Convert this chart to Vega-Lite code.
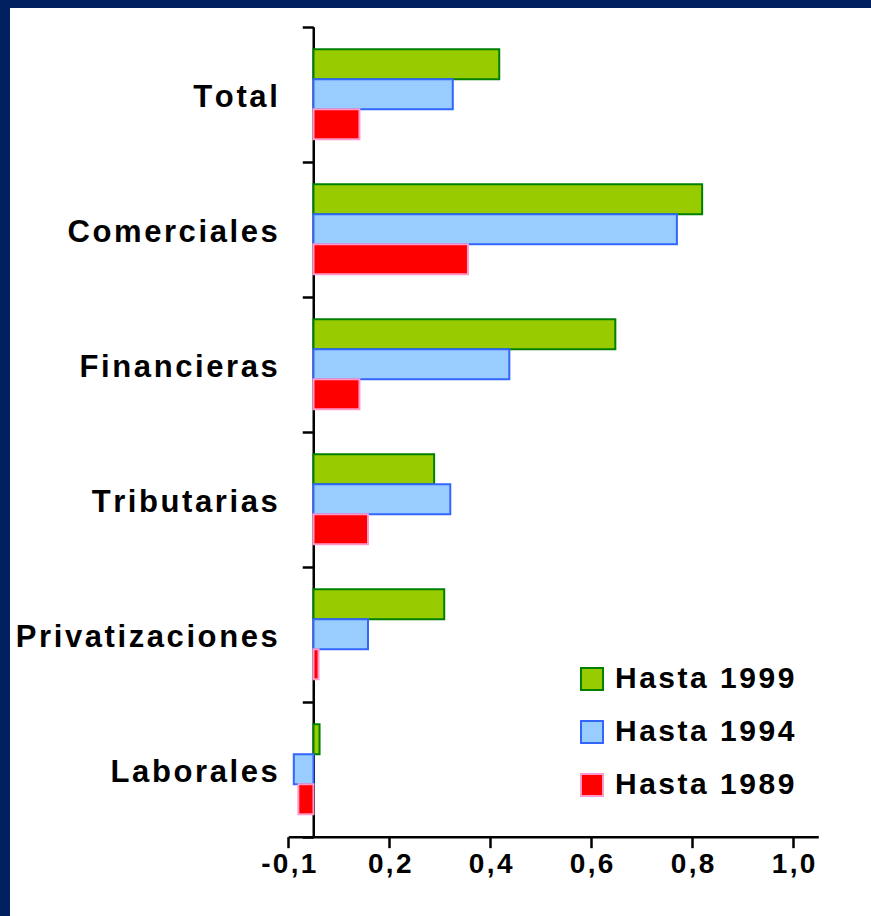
{
  "$schema": "https://vega.github.io/schema/vega-lite/v6.json",
  "autosize": {"type": "none"},
  "width": 861,
  "height": 908,
  "padding": {"left": 10, "top": 8, "right": 0, "bottom": 0},
  "background": "#002060",
  "config": {
    "view": {"fill": "#ffffff", "stroke": null},
    "font": "'Liberation Sans', Arial, sans-serif"
  },
  "data": {
    "values": [
      {"categoria": "Total", "serie": "Hasta 1999", "valor": 0.368},
      {"categoria": "Total", "serie": "Hasta 1994", "valor": 0.276},
      {"categoria": "Total", "serie": "Hasta 1989", "valor": 0.091},
      {"categoria": "Comerciales", "serie": "Hasta 1999", "valor": 0.770},
      {"categoria": "Comerciales", "serie": "Hasta 1994", "valor": 0.720},
      {"categoria": "Comerciales", "serie": "Hasta 1989", "valor": 0.306},
      {"categoria": "Financieras", "serie": "Hasta 1999", "valor": 0.598},
      {"categoria": "Financieras", "serie": "Hasta 1994", "valor": 0.388},
      {"categoria": "Financieras", "serie": "Hasta 1989", "valor": 0.091},
      {"categoria": "Tributarias", "serie": "Hasta 1999", "valor": 0.239},
      {"categoria": "Tributarias", "serie": "Hasta 1994", "valor": 0.271},
      {"categoria": "Tributarias", "serie": "Hasta 1989", "valor": 0.108},
      {"categoria": "Privatizaciones", "serie": "Hasta 1999", "valor": 0.259},
      {"categoria": "Privatizaciones", "serie": "Hasta 1994", "valor": 0.108},
      {"categoria": "Privatizaciones", "serie": "Hasta 1989", "valor": 0.010},
      {"categoria": "Laborales", "serie": "Hasta 1999", "valor": 0.012},
      {"categoria": "Laborales", "serie": "Hasta 1994", "valor": -0.039},
      {"categoria": "Laborales", "serie": "Hasta 1989", "valor": -0.030}
    ]
  },
  "mark": {"type": "bar", "strokeWidth": 2},
  "encoding": {
    "y": {
      "field": "categoria",
      "type": "nominal",
      "sort": ["Total", "Comerciales", "Financieras", "Tributarias", "Privatizaciones", "Laborales"],
      "scale": {"type": "band", "range": [18.67, 828.67], "paddingInner": 0, "paddingOuter": 0},
      "axis": {
        "title": null,
        "orient": "left",
        "offset": -303.25,
        "domainColor": "#000000",
        "domainWidth": 2.5,
        "tickBand": "extent",
        "tickColor": "#000000",
        "tickWidth": 2.5,
        "tickSize": 11,
        "labelPadding": 25,
        "labelOffset": 3,
        "labelFontWeight": "bold",
        "labelFontSize": 31,
        "labelColor": "#000000",
        "labelLimit": 400,
        "labelExpr": "join(split(datum.label, ''), '\u200a')"
      }
    },
    "yOffset": {
      "field": "serie",
      "type": "nominal",
      "sort": ["Hasta 1999", "Hasta 1994", "Hasta 1989"],
      "scale": {"paddingInner": 0, "paddingOuter": 0.75}
    },
    "x": {
      "field": "valor",
      "type": "quantitative",
      "scale": {"domain": [-0.05, 1.0], "range": [278.25, 808.25], "nice": false, "zero": false},
      "axis": {
        "title": null,
        "orient": "bottom",
        "offset": -79.33,
        "values": [-0.05, 0.15, 0.35, 0.55, 0.75, 0.95],
        "grid": false,
        "domainColor": "#000000",
        "domainWidth": 2.5,
        "tickColor": "#000000",
        "tickWidth": 2.5,
        "tickSize": 11,
        "labelPadding": 3,
        "labelFontWeight": "bold",
        "labelFontSize": 28,
        "labelColor": "#000000",
        "labelFlush": false,
        "labelExpr": "datum.value < 0 ? '-\u200a0\u200a,\u200a1' : join(split(replace(format(datum.value + 0.05, '.1f'), '.', ','), ''), '\u200a')"
      }
    },
    "fill": {
      "field": "serie",
      "type": "nominal",
      "sort": ["Hasta 1999", "Hasta 1994", "Hasta 1989"],
      "scale": {"domain": ["Hasta 1999", "Hasta 1994", "Hasta 1989"], "range": ["#99CC00", "#99CCFF", "#FF0000"]},
      "legend": {
        "title": null,
        "orient": "none",
        "legendX": 567,
        "legendY": 656,
        "padding": 0,
        "symbolType": "square",
        "symbolSize": 484,
        "symbolStrokeWidth": 2,
        "symbolOpacity": 1,
        "labelOffset": 8,
        "rowPadding": 23,
        "labelFontWeight": "bold",
        "labelFontSize": 30,
        "labelColor": "#000000",
        "labelLimit": 400,
        "labelExpr": "join(split(datum.label, ''), '\u200a')"
      }
    },
    "stroke": {
      "field": "serie",
      "type": "nominal",
      "sort": ["Hasta 1999", "Hasta 1994", "Hasta 1989"],
      "scale": {"domain": ["Hasta 1999", "Hasta 1994", "Hasta 1989"], "range": ["#008000", "#3366FF", "#FF99CC"]},
      "legend": {
        "title": null,
        "orient": "none",
        "legendX": 567,
        "legendY": 656,
        "padding": 0,
        "symbolType": "square",
        "symbolSize": 484,
        "symbolStrokeWidth": 2,
        "labelOffset": 8,
        "rowPadding": 23,
        "labelFontWeight": "bold",
        "labelFontSize": 30,
        "labelColor": "#000000",
        "labelLimit": 400,
        "labelExpr": "join(split(datum.label, ''), '\u200a')"
      }
    }
  }
}
